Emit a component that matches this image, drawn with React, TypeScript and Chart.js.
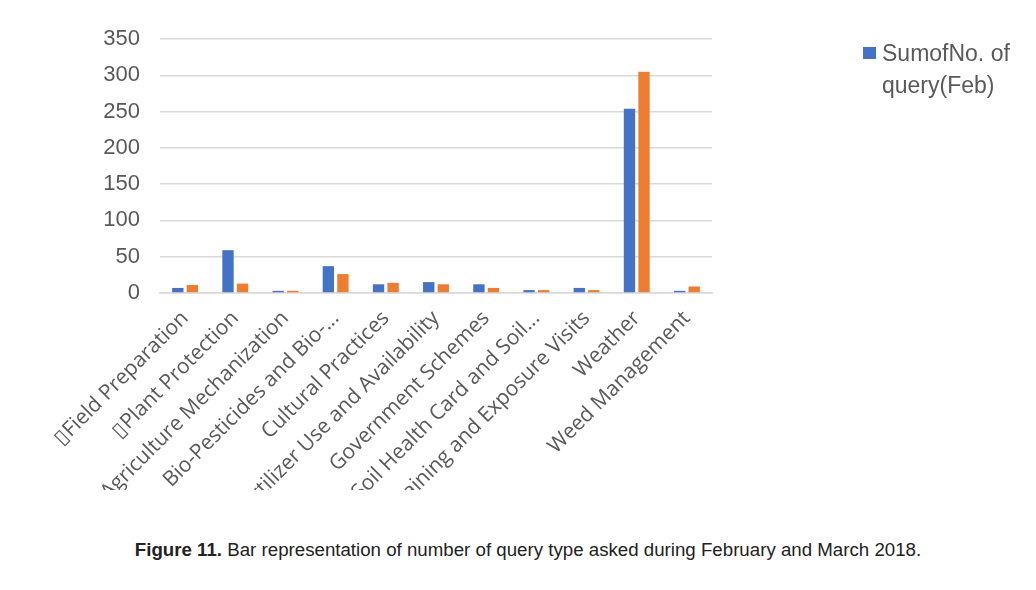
import React, { useEffect, useRef } from "react";
import { Chart, registerables } from "chart.js";

Chart.register(...registerables);

const categories: string[] = [
  "▯Field Preparation",
  "▯Plant Protection",
  "Agriculture Mechanization",
  "Bio-Pesticides and Bio-...",
  "Cultural Practices",
  "Fertilizer Use and Availability",
  "Government Schemes",
  "Soil Health Card and Soil...",
  "Training and Exposure Visits",
  "Weather",
  "Weed Management",
];
const febValues: number[] = [7, 59, 3, 37, 12, 15, 12, 4, 7, 254, 3];
const marValues: number[] = [11, 13, 3, 26, 14, 12, 7, 4, 4, 305, 9];
const seriesNames: string[] = ["SumofNo. of query(Feb)", "SumofNo. of query(Mar)"];
const yTicks: number[] = [0, 50, 100, 150, 200, 250, 300, 350];

const BLUE = "#4472C4";
const ORANGE = "#ED7D31";
const TEXT = "#595959";

export default function App() {
  const ref = useRef<HTMLCanvasElement | null>(null);

  useEffect(() => {
    if (!ref.current) return;
    const chart = new Chart(ref.current, {
      type: "bar",
      data: {
        labels: categories,
        datasets: [
          {
            label: seriesNames[0],
            data: febValues,
            backgroundColor: BLUE,
            categoryPercentage: 0.58,
            barPercentage: 0.78,
          },
          {
            label: seriesNames[1],
            data: marValues,
            backgroundColor: ORANGE,
            categoryPercentage: 0.58,
            barPercentage: 0.78,
          },
        ],
      },
      options: {
        animation: false,
        responsive: false,
        maintainAspectRatio: false,
        layout: { padding: { left: 100, right: 324, top: 39, bottom: 0 } },
        plugins: {
          legend: { display: false },
          tooltip: { enabled: false },
        },
        scales: {
          x: {
            grid: { display: false, drawTicks: false },
            border: { display: true, color: "#d9d9d9", width: 1.5 },
            ticks: {
              color: TEXT,
              font: { family: "'Open Sans', sans-serif", size: 21 },
              minRotation: 45,
              maxRotation: 45,
              autoSkip: false,
              padding: 13,
            },
            afterFit: (scale: any) => {
              scale.height = 197;
            },
          },
          y: {
            min: 0,
            max: 350,
            afterBuildTicks: (scale: any) => {
              scale.ticks = yTicks.map((v) => ({ value: v }));
            },
            grid: { color: "#d9d9d9", lineWidth: 1.5, drawTicks: false },
            border: { display: false },
            ticks: {
              color: TEXT,
              font: { family: "'Liberation Sans', Arial, sans-serif", size: 22 },
              padding: 20,
            },
            afterFit: (scale: any) => {
              scale.width = 60;
            },
          },
        },
      },
    });
    return () => chart.destroy();
  }, []);

  return (
    <div
      style={{
        position: "absolute",
        left: 0,
        top: 0,
        width: 1036,
        height: 590,
        background: "#ffffff",
        overflow: "hidden",
      }}
    >
      <canvas ref={ref} width={1036} height={490} style={{ display: "block" }} />
      <div
        style={{
          position: "absolute",
          left: 863,
          top: 37,
          width: 170,
          fontFamily: "'Liberation Sans', Arial, sans-serif",
          fontSize: 23,
          color: TEXT,
          lineHeight: "32px",
        }}
      >
        <span
          style={{
            position: "absolute",
            left: 0,
            top: 10,
            width: 13,
            height: 12,
            background: BLUE,
          }}
        />
        <div style={{ position: "absolute", left: 19, top: 0, whiteSpace: "nowrap" }}>SumofNo. of</div>
        <div style={{ position: "absolute", left: 19, top: 32, whiteSpace: "nowrap" }}>query(Feb)</div>
      </div>
      <div
        style={{
          position: "absolute",
          left: 0,
          top: 539,
          width: 1056,
          textAlign: "center",
          fontFamily: "'Liberation Sans Narrow', 'Liberation Sans', Arial, sans-serif",
          fontSize: 18.7,
          color: "#222222",
        }}
      >
        <b>Figure 11.</b> Bar representation of number of query type asked during February and March 2018.
      </div>
    </div>
  );
}
